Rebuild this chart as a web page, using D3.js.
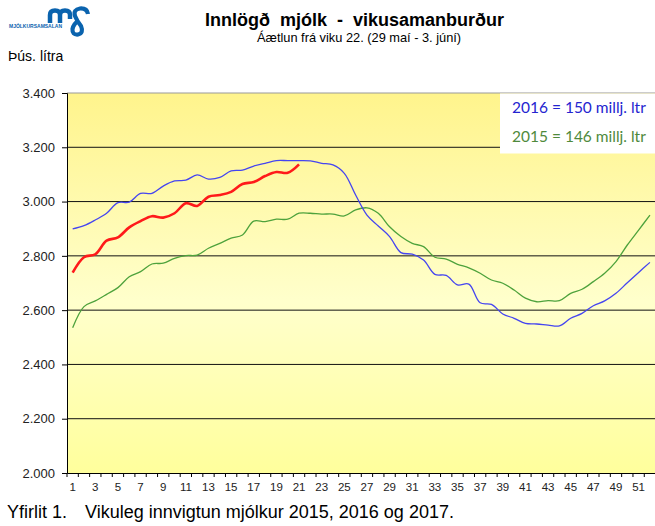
<!DOCTYPE html>
<html>
<head>
<meta charset="utf-8">
<script src="https://cdn.jsdelivr.net/npm/d3@7"></script>
<style>
  body { margin: 0; padding: 0; background: #fff; }
  svg { display: block; }
</style>
</head>
<body>
<svg id="chart" width="655" height="526"></svg>
<script>
// weekly milk intake, thousand litres
const weeks = d3.range(1, 53);
const yTicks = [2000, 2200, 2400, 2600, 2800, 3000, 3200, 3400];
const xTickLabels = d3.range(1, 52, 2);

const values2017 = [2738, 2795, 2806, 2856, 2868, 2905, 2928, 2946, 2941, 2957,
  2994, 2984, 3018, 3024, 3036, 3065, 3072, 3094, 3109, 3106, 3137];

const values2016 = [2899, 2911, 2932, 2957, 2996, 2998, 3030, 3030, 3057, 3076,
  3079, 3098, 3083, 3089, 3113, 3116, 3131, 3141, 3151, 3151,
  3151, 3150, 3141, 3135, 3104, 3024, 2950, 2910, 2871, 2812,
  2806, 2785, 2732, 2728, 2693, 2696, 2627, 2621, 2586, 2570,
  2551, 2549, 2545, 2542, 2570, 2588, 2616, 2634, 2662, 2701,
  2739, 2776];

const values2015 = [2535, 2613, 2634, 2658, 2683, 2723, 2742, 2770, 2773, 2791,
  2801, 2803, 2828, 2846, 2865, 2877, 2928, 2926, 2935, 2935,
  2957, 2957, 2954, 2954, 2947, 2969, 2977, 2957, 2907, 2871,
  2846, 2834, 2795, 2788, 2769, 2756, 2736, 2711, 2699, 2674,
  2644, 2631, 2635, 2635, 2662, 2677, 2705, 2736, 2779, 2840,
  2895, 2950];

const legendLines = [
  { text: "2016 = 150 millj. ltr", color: "#2424d0" },
  { text: "2015 = 146 millj. ltr", color: "#4f8a3c" }
];

const svg = d3.select("#chart");
const plotL = 67, plotR = 655.6, plotT = 93, plotB = 473;
const arial = "Arial, 'Liberation Sans', sans-serif";

const x = d3.scaleBand().domain(weeks).range([plotL, plotR]);
const y = d3.scaleLinear().domain([2000, 3400]).range([plotB, plotT]);
const fmt = v => d3.format(",.3f")(v / 1000).replace(",", "");
const xc = d => x(d) + x.bandwidth() / 2;

// background gradient
const grad = svg.append("defs").append("linearGradient")
  .attr("id", "bg").attr("x1", 0).attr("y1", 0).attr("x2", 0).attr("y2", 1);
grad.append("stop").attr("offset", "0%").attr("stop-color", "#fff48c");
grad.append("stop").attr("offset", "55%").attr("stop-color", "#ffffcc");
grad.append("stop").attr("offset", "100%").attr("stop-color", "#ffff9c");

svg.append("rect")
  .attr("x", plotL).attr("y", plotT)
  .attr("width", plotR - plotL).attr("height", plotB - plotT)
  .attr("fill", "url(#bg)");

// gridlines
svg.append("g").selectAll("line")
  .data(yTicks.slice(1))
  .join("line")
  .attr("x1", plotL).attr("x2", plotR)
  .attr("y1", d => y(d)).attr("y2", d => y(d))
  .attr("stroke", d => d === 3400 ? "#999" : "#111")
  .attr("stroke-width", 1);

// legend box
svg.append("rect")
  .attr("x", 500).attr("y", plotT + 0.5)
  .attr("width", 155).attr("height", 60)
  .attr("fill", "#fff");
svg.append("g").selectAll("text")
  .data(legendLines)
  .join("text")
  .attr("x", 512).attr("y", (d, i) => 113 + i * 29)
  .attr("fill", d => d.color)
  .style("font-family", "Lato, 'Open Sans', sans-serif")
  .style("font-size", "15.5px")
  .text(d => d.text);

// lines
const line = d3.line()
  .x((d, i) => xc(weeks[i]))
  .y(d => y(d))
  .curve(d3.curveCatmullRom.alpha(0.5));

svg.append("path").attr("d", line(values2015))
  .attr("fill", "none").attr("stroke", "#4ea23c").attr("stroke-width", 1.3);
svg.append("path").attr("d", line(values2016))
  .attr("fill", "none").attr("stroke", "#4545f0").attr("stroke-width", 1.3);
svg.append("path").attr("d", line(values2017))
  .attr("fill", "none").attr("stroke", "#ff1a1a").attr("stroke-width", 2.6);

// y axis
const yAxis = svg.append("g")
  .attr("transform", `translate(${plotL},0)`)
  .call(d3.axisLeft(y).tickValues(yTicks).tickFormat(fmt).tickSize(5).tickPadding(7));
yAxis.select(".domain").attr("stroke", "#000");
yAxis.selectAll("text")
  .style("font-family", arial)
  .style("font-size", "13px").attr("fill", "#222");

// x axis
const xAxis = svg.append("g")
  .attr("transform", `translate(0,${plotB})`)
  .call(d3.axisBottom(x).tickValues([]).tickSize(0));
xAxis.select(".domain").attr("stroke", "#000");
xAxis.selectAll(".bt").data(weeks.concat([53]))
  .join("line")
  .attr("x1", (d, i) => plotL + i * x.step()).attr("x2", (d, i) => plotL + i * x.step())
  .attr("y1", 0).attr("y2", 4).attr("stroke", "#000");
xAxis.selectAll(".lbl").data(xTickLabels)
  .join("text")
  .attr("x", d => xc(d)).attr("y", 18)
  .attr("text-anchor", "middle")
  .attr("fill", "#222")
  .style("font-family", arial)
  .style("font-size", "11.5px")
  .text(d => d);

// titles
svg.append("text")
  .attr("x", 205).attr("y", 26)
  .style("font-family", arial)
  .style("font-size", "18px").style("font-weight", "bold")
  .style("word-spacing", "5px")
  .text("Innlögð mjólk - vikusamanburður");
svg.append("text")
  .attr("x", 257).attr("y", 42)
  .style("font-family", arial)
  .style("font-size", "12.8px")
  .text("Áætlun frá viku 22. (29 maí - 3. júní)");
svg.append("text")
  .attr("x", 8).attr("y", 61)
  .style("font-family", arial)
  .style("font-size", "14px")
  .text("Þús. lítra");
svg.append("text")
  .attr("x", 7).attr("y", 518)
  .style("font-family", arial)
  .style("font-size", "18px")
  .text("Yfirlit 1.");
svg.append("text")
  .attr("x", 85).attr("y", 518)
  .style("font-family", arial)
  .style("font-size", "18px")
  .text("Vikuleg innvigtun mjólkur 2015, 2016 og 2017.");

// logo
const logo = svg.append("g").attr("fill", "none").attr("stroke", "#0a63ae")
  .attr("stroke-linecap", "butt");
logo.append("path")
  .attr("d", "M50,23 V15 Q50,10.5 55,10.5 Q60,10.5 60,15 V23 M60,15 Q60,10.5 65,10.5 Q70,10.5 70,15 V19")
  .attr("stroke-width", 4.5);
logo.append("path")
  .attr("d", "M88,14 Q87,8 80,8.5 Q73,9.5 75,16 Q77,21 81,26 Q84,33 78,34.5 Q72,35 72.5,29 Q73.5,24 78,21")
  .attr("stroke-width", 4.2);
svg.append("text")
  .attr("x", 9).attr("y", 27.5)
  .attr("fill", "#0a63ae")
  .attr("textLength", 53)
  .attr("lengthAdjust", "spacingAndGlyphs")
  .style("font-family", arial)
  .style("font-size", "5px").style("font-weight", "bold")
  .text("MJÓLKURSAMSALAN");
</script>
</body>
</html>
